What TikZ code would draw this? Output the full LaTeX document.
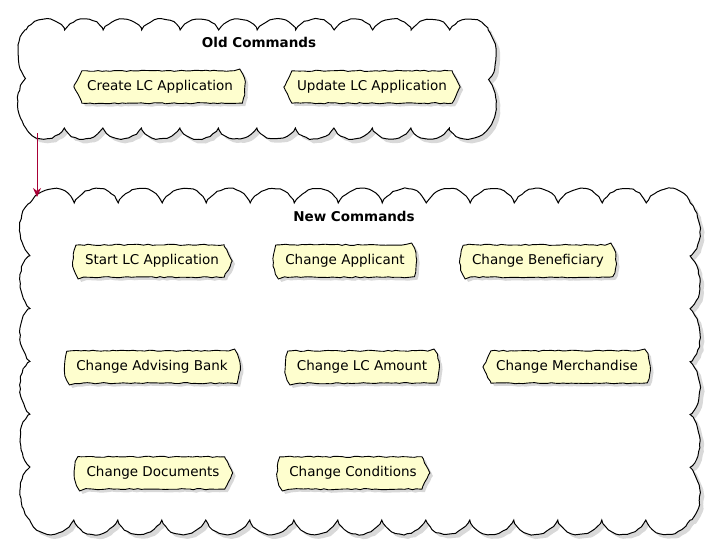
\documentclass[tikz,border=0pt]{standalone}
\usepackage{fontspec}
\setmainfont{DejaVu Sans}
\usetikzlibrary{arrows.meta,shadows,decorations.pathmorphing}

\pgfdeclarelayer{clouds}
\pgfdeclarelayer{boxes}
\pgfsetlayers{clouds,boxes,main}

\definecolor{cmdfill}{HTML}{FEFECE}
\definecolor{arrowred}{HTML}{A80036}

\tikzset{
  cmd/.style={inner xsep=5pt, minimum height=32pt, font=\fontsize{13.5}{16}\selectfont},
  title/.style={font=\bfseries\fontsize{13.5}{16}\selectfont},
  rough/.style={decorate, decoration={random steps, segment length=4pt, amplitude=0.6pt}},
  boxshape/.style={rough, draw=black, line width=0.9pt, fill=cmdfill,
    drop shadow={shadow xshift=3pt, shadow yshift=-3pt, opacity=0.3}},
  cloudshape/.style={rough, draw=black, line width=1pt, fill=white,
    drop shadow={shadow xshift=4pt, shadow yshift=-4pt, opacity=0.3}},
  flow/.style={draw=arrowred, line width=0.8pt, -{Stealth[length=9pt,width=8pt,inset=3pt]}}
}

% ends of the command boxes
\newcommand{\lpoint}[1]{-- ([xshift=-8pt]#1.west) --}
\newcommand{\lcurve}[1]{.. controls ([xshift=-9pt]#1.north west) and ([xshift=-9pt]#1.south west) ..}
\newcommand{\rpoint}[1]{-- ([xshift=8pt]#1.east) --}
\newcommand{\rcurve}[1]{.. controls ([xshift=9pt]#1.south east) and ([xshift=9pt]#1.north east) ..}

\newcommand{\cmdbox}[3]{%
  \begin{pgfonlayer}{boxes}
    \path[boxshape] (#1.north west) #2{#1} (#1.south west) -- (#1.south east) #3{#1} (#1.north east) -- cycle;
  \end{pgfonlayer}}

% x0 y0 x1 y1, bumps along and down, bump depth top and side
\newcommand{\cloudpath}[8]{%
  (#1,#2)
  \foreach \i in {1,...,#5}{ .. controls +({0.3*(#3-#1)/#5},{-1.3*#7}) and +({-0.15*(#3-#1)/#5},{-1.1*#7}) .. ({#1+\i*(#3-#1)/#5},#2) }
  \foreach \i in {1,...,#6}{ .. controls +({1.3*#8},{0.3*(#4-#2)/#6}) and +({1.1*#8},{-0.15*(#4-#2)/#6}) .. (#3,{#2+\i*(#4-#2)/#6}) }
  \foreach \i in {1,...,#5}{ .. controls +({-0.3*(#3-#1)/#5},{1.3*#7}) and +({0.15*(#3-#1)/#5},{1.1*#7}) .. ({#3-\i*(#3-#1)/#5},#4) }
  \foreach \i in {1,...,#6}{ .. controls +({-1.3*#8},{-0.3*(#4-#2)/#6}) and +({-1.1*#8},{0.15*(#4-#2)/#6}) .. (#1,{#4-\i*(#4-#2)/#6}) }
  -- cycle}

\begin{document}
\begin{tikzpicture}[x=1pt, y=-1pt]
  \useasboundingbox (0,0) rectangle (712,554);

  % the two packages
  \begin{pgfonlayer}{clouds}
    \path[cloudshape] \cloudpath{26}{30}{488}{128}{12}{2}{12}{9};
    \path[cloudshape] \cloudpath{30}{203}{690}{520}{15}{6}{16}{11};
  \end{pgfonlayer}

  \node[title] (oldtitle) at (259,42) {Old Commands};
  \node[title] (newtitle) at (354,216) {New Commands};

  % old commands
  \node[cmd] (createlc) at (160,87) {Create LC Application};
  \node[cmd] (updatelc) at (372,87) {Update LC Application};
  \cmdbox{createlc}{\lpoint}{\rcurve}
  \cmdbox{updatelc}{\lpoint}{\rpoint}

  % new commands
  \node[cmd] (startlc) at (152,261) {Start LC Application};
  \node[cmd] (applicant) at (345,261) {Change Applicant};
  \node[cmd] (beneficiary) at (538,261) {Change Beneficiary};
  \node[cmd] (advising) at (152,367) {Change Advising Bank};
  \node[cmd] (amount) at (362,367) {Change LC Amount};
  \node[cmd] (merchandise) at (567,367) {Change Merchandise};
  \node[cmd] (documents) at (153,473) {Change Documents};
  \node[cmd] (conditions) at (353,473) {Change Conditions};
  \cmdbox{startlc}{\lcurve}{\rpoint}
  \cmdbox{applicant}{\lcurve}{\rcurve}
  \cmdbox{beneficiary}{\lcurve}{\rcurve}
  \cmdbox{advising}{\lcurve}{\rcurve}
  \cmdbox{amount}{\lcurve}{\rcurve}
  \cmdbox{merchandise}{\lpoint}{\rcurve}
  \cmdbox{documents}{\lcurve}{\rpoint}
  \cmdbox{conditions}{\lcurve}{\rpoint}

  % old to new
  \coordinate (oldexit) at (37,133);
  \coordinate (newentry) at (37,197);
  \draw[flow] (oldexit) -- (newentry);
\end{tikzpicture}
\end{document}
